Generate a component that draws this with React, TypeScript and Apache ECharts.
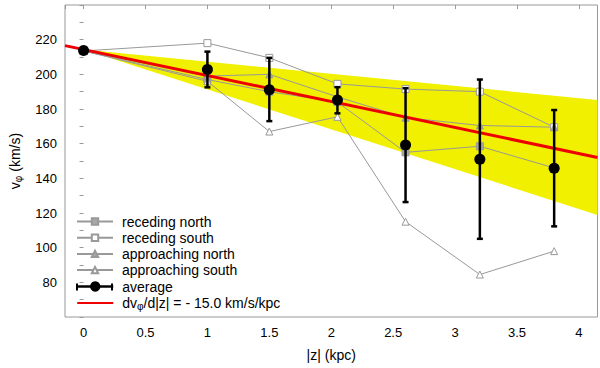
import React, { useEffect, useRef } from "react";
import * as echarts from "echarts";

// ---- data ----
const zValues = [0, 1, 1.5, 2.05, 2.6, 3.2, 3.8];
const recedingNorth = [213.5, 197, 190, 184, 155, 158.5, 146];
const recedingSouth = [213.5, 218, 209.5, 194.5, 191.5, 190, 169.5];
const approachingNorth = [213.5, 199, 200, 187, 175, 170.5, 169.5];
const approachingSouth = [213.5, 196, 167, 175.5, 115, 84.5, 98];
const average = [213.7, 202.8, 191.1, 185.2, 159.2, 151, 145.8];
const errLow = [213.7, 192.5, 173, 177.5, 126.3, 105.1, 112.3];
const errHigh = [213.7, 213.1, 209.5, 192.6, 192, 197, 179.4];

// fit line dv/d|z| = -15 km/s/kpc and its uncertainty wedge (end points)
const fitX = [-0.15, 4.15];
const fitV = [216.55, 152.05];
const bandX = [0, 4.15];
const bandLow = [214.3, 118.85];
const bandHigh = [214.3, 185.25];

const yTicks = [80, 100, 120, 140, 160, 180, 200, 220];

const FONT = "'Liberation Sans', Arial, Helvetica, sans-serif";
const GRAY = "#999999";
const X_MIN = -0.15;
const X_MAX = 4.15;

export default function App() {
  const ref = useRef<HTMLDivElement>(null);

  useEffect(() => {
    if (!ref.current) return;
    const chart = echarts.init(ref.current, null, { renderer: "svg" });

    const pairs = (ys: number[]) => zValues.map((x, i) => [x, ys[i]]);

    const graySeries = (name: string, ys: number[], symbol: string, open: boolean) => ({
      name,
      type: "line",
      data: pairs(ys),
      symbol,
      symbolSize: 7,
      z: 3,
      lineStyle: { color: GRAY, width: 1 },
      itemStyle: open
        ? { color: "#ffffff", borderColor: GRAY, borderWidth: 1 }
        : { color: "#a8a8a8", borderColor: GRAY, borderWidth: 1 },
    });

    const option: any = {
      animation: false,
      textStyle: { fontFamily: FONT },
      grid: {
        left: 62,
        right: 2.5,
        top: 5,
        bottom: 51,
        show: true,
        borderColor: GRAY,
        borderWidth: 1,
        backgroundColor: "transparent",
      },
      xAxis: [
        {
          type: "value",
          min: X_MIN,
          max: X_MAX,
          splitNumber: 8,
          axisLine: { show: false },
          axisTick: { show: false },
          splitLine: { show: false },
          axisLabel: {
            color: "#000",
            fontSize: 13,
            margin: 9,
            fontFamily: FONT,
            showMinLabel: false,
            showMaxLabel: false,
          },
          name: "|z| (kpc)",
          nameLocation: "middle",
          nameGap: 31,
          nameTextStyle: { color: "#000", fontSize: 14, fontFamily: FONT },
        },
        {
          type: "value",
          position: "top",
          min: X_MIN,
          max: X_MAX,
          splitNumber: 8,
          axisLine: { show: false },
          axisTick: { show: true, inside: true, length: 4, lineStyle: { color: GRAY } },
          axisLabel: { show: false },
          splitLine: { show: false },
        },
      ],
      yAxis: [
        {
          type: "value",
          min: 60,
          max: 240,
          interval: 20,
          axisLine: { show: false },
          axisTick: { show: false },
          splitLine: { show: false },
          axisLabel: {
            color: "#000",
            fontSize: 13,
            margin: 8,
            fontFamily: FONT,
            formatter: (v: number) => (yTicks.includes(v) ? String(v) : ""),
          },
          name: "v{sub|φ} (km/s)",
          nameLocation: "middle",
          nameGap: 42,
          nameTextStyle: {
            color: "#000",
            fontSize: 14,
            fontFamily: FONT,
            rich: {
              sub: { fontSize: 10, fontFamily: FONT, color: "#000", padding: [6, 0, 0, 0] },
            },
          },
        },
        {
          type: "value",
          position: "right",
          min: 60,
          max: 240,
          interval: 10,
          axisLine: { show: false },
          axisTick: { show: true, inside: true, length: 4, lineStyle: { color: GRAY } },
          axisLabel: { show: false },
          splitLine: { show: false },
        },
      ],
      legend: [
        {
          orient: "vertical",
          left: 76,
          top: 213.5,
          padding: 0,
          itemWidth: 36,
          itemHeight: 8,
          itemGap: 0.2,
          selectedMode: false,
          textStyle: {
            fontSize: 14,
            lineHeight: 16,
            color: "#000",
            fontFamily: FONT,
            padding: [0, 0, 0, 4],
          },
          data: ["receding north", "receding south", "approaching north", "approaching south"],
        },
        {
          orient: "vertical",
          left: 76,
          top: 279.5,
          padding: 0,
          itemWidth: 36,
          itemHeight: 13,
          itemGap: 2.4,
          selectedMode: false,
          textStyle: {
            fontSize: 14,
            lineHeight: 13,
            color: "#000",
            fontFamily: FONT,
            padding: [0, 0, 0, 4],
            rich: {
              sub: { fontSize: 10, fontFamily: FONT, color: "#000", padding: [8, 0, 0, 0] },
            },
          },
          formatter: (name: string) =>
            name === "fit" ? "dv{sub|φ}/d|z| = - 15.0 km/s/kpc" : name,
          data: [
            {
              name: "average",
              lineStyle: { color: "#000", width: 2.5, opacity: 1 },
            },
            { name: "fit", itemStyle: { opacity: 0 } },
          ],
        },
      ],
      graphic: [
        { type: "line", shape: { x1: 77, y1: 283.5, x2: 77, y2: 290.5 }, style: { stroke: "#000", lineWidth: 2 } },
        { type: "line", shape: { x1: 112, y1: 283.5, x2: 112, y2: 290.5 }, style: { stroke: "#000", lineWidth: 2 } },
      ],
      series: [
        {
          name: "band",
          type: "custom",
          z: 1,
          silent: true,
          clip: true,
          data: bandX.map((x, i) => [x, bandLow[i], bandHigh[i]]),
          encode: { x: 0, y: [1, 2] },
          renderItem: (params: any, api: any) => {
            if (params.dataIndex !== 0) return null;
            const lower = bandX.map((x, i) => api.coord([x, bandLow[i]]));
            const upper = bandX.map((x, i) => api.coord([x, bandHigh[i]])).reverse();
            return {
              type: "polygon",
              shape: { points: [...lower, ...upper] },
              style: { fill: "#f0f000", stroke: "none" },
            };
          },
        },
        graySeries("receding north", recedingNorth, "rect", false),
        graySeries("receding south", recedingSouth, "rect", true),
        graySeries("approaching north", approachingNorth, "triangle", false),
        graySeries("approaching south", approachingSouth, "triangle", true),
        {
          name: "fit",
          type: "line",
          data: fitX.map((x, i) => [x, fitV[i]]),
          symbol: "none",
          z: 4,
          lineStyle: { color: "#ee0000", width: 3 },
          itemStyle: { color: "#ee0000" },
        },
        {
          name: "errorbars",
          type: "custom",
          z: 5,
          silent: true,
          data: zValues.map((x, i) => [x, errLow[i], errHigh[i]]),
          encode: { x: 0, y: [1, 2] },
          renderItem: (params: any, api: any) => {
            const x = api.value(0);
            const lo = api.coord([x, api.value(1)]);
            const hi = api.coord([x, api.value(2)]);
            const hw = 3;
            const st = { stroke: "#000", lineWidth: 2.5 };
            return {
              type: "group",
              children: [
                { type: "line", shape: { x1: lo[0], y1: lo[1], x2: hi[0], y2: hi[1] }, style: st },
                { type: "line", shape: { x1: lo[0] - hw, y1: lo[1], x2: lo[0] + hw, y2: lo[1] }, style: st },
                { type: "line", shape: { x1: hi[0] - hw, y1: hi[1], x2: hi[0] + hw, y2: hi[1] }, style: st },
              ],
            };
          },
        },
        {
          name: "average",
          type: "line",
          data: pairs(average),
          symbol: "circle",
          symbolSize: 11,
          z: 6,
          lineStyle: { opacity: 0, width: 0, color: "#000" },
          itemStyle: { color: "#000" },
        },
      ],
    };

    chart.setOption(option);
    return () => chart.dispose();
  }, []);

  return (
    <div
      ref={ref}
      style={{ position: "fixed", left: 0, top: 0, width: 600, height: 368, background: "#fff" }}
    />
  );
}
